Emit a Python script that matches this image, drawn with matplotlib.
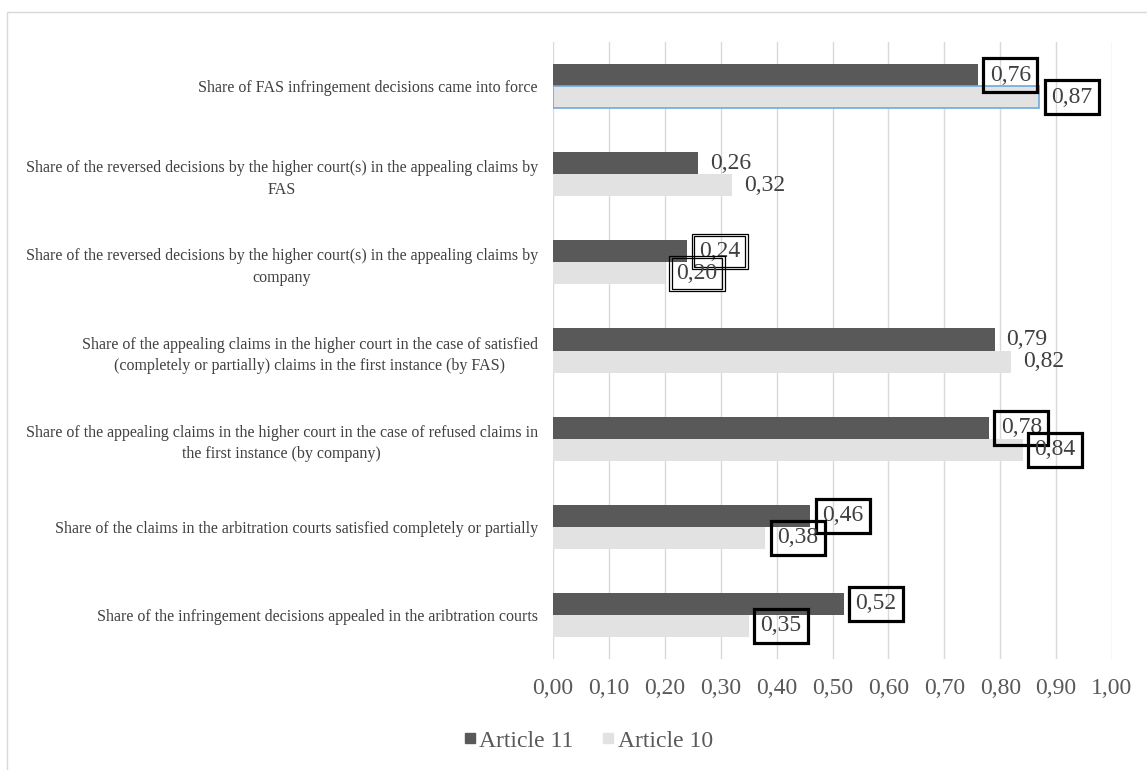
import matplotlib
matplotlib.use("Agg")
import matplotlib.pyplot as plt
from matplotlib.lines import Line2D
from matplotlib.patches import Rectangle
from matplotlib.ticker import FuncFormatter

plt.rcParams["font.family"] = ["Liberation Serif", "DejaVu Serif"]

categories = [
    "Share of FAS infringement decisions came into force",
    "Share of the reversed decisions by the higher court(s) in the appealing claims by\nFAS",
    "Share of the reversed decisions by the higher court(s) in the appealing claims by\ncompany",
    "Share of the appealing claims in the higher court in the case of satisfied\n(completely or partially) claims in the first instance (by FAS)",
    "Share of the appealing claims in the higher court in the case of refused claims in\nthe first instance (by company)",
    "Share of the claims in the arbitration courts satisfied completely or partially",
    "Share of the infringement decisions appealed in the aribtration courts",
]
article11 = [0.76, 0.26, 0.24, 0.79, 0.78, 0.46, 0.52]
article10 = [0.87, 0.32, 0.20, 0.82, 0.84, 0.38, 0.35]
# label frame style per bar: None, "thick" or "double"
frame11 = ["thick", None, "double", None, "thick", "thick", "thick"]
frame10 = ["thick", None, "double", None, "thick", "thick", "thick"]

DARK = "#595959"
LIGHT = "#e2e2e2"
GRID = "#d9d9d9"
TXT = "#404040"

fig = plt.figure(figsize=(11.47, 7.70), dpi=100)
ax = fig.add_axes([553 / 1147, 1 - 659 / 770, (1112 - 553) / 1147, (659 - 42) / 770])

pos = list(range(len(categories)))
h = 0.25
y11 = [p - h / 2 for p in pos]
y10 = [p + h / 2 for p in pos]
ax.barh(y11, article11, height=h, color=DARK, zorder=2, label="Article 11")
bars10 = ax.barh(y10, article10, height=h, color=LIGHT, zorder=2, label="Article 10")
# first light bar is selected in the original (blue outline)
bars10[0].set_edgecolor("#6fa8dc")
bars10[0].set_linewidth(1.2)

ax.set_xlim(0, 1)
ax.set_ylim(len(categories) - 0.5, -0.5)
ax.set_xticks([i / 10 for i in range(11)])
ax.xaxis.set_major_formatter(FuncFormatter(lambda v, _: f"{v:.2f}".replace(".", ",")))
ax.set_yticks(pos)
ax.set_yticklabels(categories, fontsize=11.5, color=TXT, multialignment="center", linespacing=1.45)
ax.tick_params(axis="x", length=0, pad=14, labelsize=17, labelcolor=DARK)
ax.tick_params(axis="y", length=0, pad=11)
ax.grid(axis="x", color=GRID, lw=1, zorder=0)
for s in ax.spines.values():
    s.set_visible(False)


def label(x, y, frame):
    txt = f"{x:.2f}".replace(".", ",")
    kw = dict(xy=(x, y), xytext=(8.5, 0), textcoords="offset points",
              ha="left", va="center", fontsize=17, color=TXT, zorder=4)
    if frame == "thick":
        kw["bbox"] = dict(boxstyle="square,pad=0.27", fc="none", ec="black", lw=2.3)
    elif frame == "double":
        kw["bbox"] = dict(boxstyle="square,pad=0.2", fc="none", ec="black", lw=0.9)
        ax.annotate(txt, **{**kw, "color": "none",
                            "bbox": dict(boxstyle="square,pad=0.31", fc="none", ec="black", lw=0.9)})
    ax.annotate(txt, **kw)


for x, y, f in zip(article11, y11, frame11):
    label(x, y, f)
for x, y, f in zip(article10, y10, frame10):
    label(x, y, f)

handles = [Line2D([], [], ls="", marker="s", ms=7, color=DARK),
           Line2D([], [], ls="", marker="s", ms=7, color=LIGHT)]
fig.legend(handles, ["Article 11", "Article 10"], loc="center", bbox_to_anchor=(0.513, 0.038),
           ncol=2, frameon=False, fontsize=17, handlelength=0.5, handletextpad=0.15,
           columnspacing=1.2, labelcolor=DARK)

# chart area border (only top and left edges fall inside the picture)
fig.add_artist(Rectangle((7 / 1147, -0.1), 2, 1.1 - 12 / 770, transform=fig.transFigure,
                         fill=False, ec=GRID, lw=1))

fig.savefig("out.png", dpi=100)
